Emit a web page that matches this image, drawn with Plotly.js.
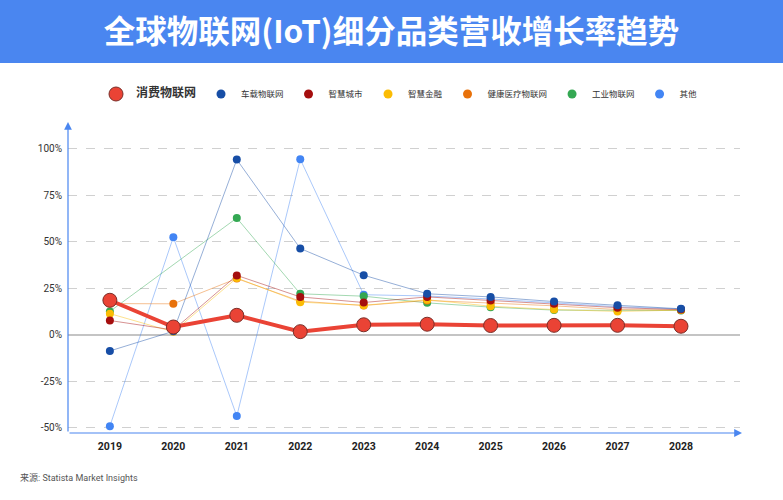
<!DOCTYPE html>
<html>
<head>
<meta charset="utf-8">
<script src="https://cdn.plot.ly/plotly-3.0.1.min.js"></script>
<style>html,body{margin:0;padding:0;background:#fff;}#chart{width:783px;height:500px;}</style>
</head>
<body>
<div id="chart"></div>
<script>
// ---- data ----
const years = [2019, 2020, 2021, 2022, 2023, 2024, 2025, 2026, 2027, 2028];
const consumerIoT   = [18.5, 4.1, 10.4, 1.6, 5.3, 5.6, 4.9, 5.0, 5.0, 4.5];
const vehicleIoT    = [-8.8, 1.8, 94.3, 46.4, 32.0, 22.0, 20.3, 17.8, 15.8, 13.9];
const smartCity     = [7.6, 2.5, 31.9, 20.3, 17.3, 20.3, 18.4, 16.6, 14.5, 13.5];
const smartFinance  = [11.3, 1.5, 30.5, 17.5, 15.8, 18.8, 15.3, 13.5, 12.5, 13.2];
const healthIoT     = [16.7, 16.6, 30.2, 18.0, 15.7, 18.4, 17.0, 15.5, 13.5, 13.3];
const industrialIoT = [12.5, null, 62.8, 22.0, 20.7, 17.1, 14.8, 13.2, 13.0, 13.0];
const otherIoT      = [-49.3, 52.5, -43.9, 94.5, 21.5, 20.8, 19.2, 17.0, 15.0, 13.8];
const yTickVals = [-50, -25, 0, 25, 50, 75, 100];

const seriesNames = ['消费物联网', '车载物联网', '智慧城市', '智慧金融', '健康医疗物联网', '工业物联网', '其他'];
const colors = ['#EA4335', '#174EA6', '#A50E0E', '#FBBC04', '#E8710A', '#34A853', '#4285F4'];

const FONT = 'Roboto, "Noto Sans CJK SC", sans-serif';

function fade(hex, a) {
  const r = parseInt(hex.slice(1,3),16), g = parseInt(hex.slice(3,5),16), b = parseInt(hex.slice(5,7),16);
  return 'rgba(' + r + ',' + g + ',' + b + ',' + a + ')';
}
function thin(name, y, color) {
  return {
    type: 'scatter', mode: 'lines+markers', x: years, y: y, name: name,
    connectgaps: true, showlegend: false,
    line: {color: fade(color, 0.45), width: 1},
    marker: {color: color, size: 8},
    hoverinfo: 'skip'
  };
}
function legendEntry(name, color, size, lineColor) {
  return {
    type: 'scatter', mode: 'markers', x: [null], y: [null], name: name,
    showlegend: true,
    marker: {color: color, size: size, line: {color: lineColor || color, width: lineColor ? 1 : 0}},
    hoverinfo: 'skip'
  };
}

const consumerLabel = '<b><span style="font-size:12px">' + seriesNames[0] + '</span></b>';

const data = [
  thin(seriesNames[6], otherIoT, colors[6]),
  thin(seriesNames[5], industrialIoT, colors[5]),
  thin(seriesNames[4], healthIoT, colors[4]),
  thin(seriesNames[3], smartFinance, colors[3]),
  thin(seriesNames[2], smartCity, colors[2]),
  thin(seriesNames[1], vehicleIoT, colors[1]),
  {
    type: 'scatter', mode: 'lines+markers', x: years, y: consumerIoT,
    name: seriesNames[0], showlegend: false,
    line: {color: colors[0], width: 4},
    marker: {color: colors[0], size: 14, line: {color: '#7a2f29', width: 1}},
    hoverinfo: 'skip'
  },
  legendEntry(consumerLabel, colors[0], 14, '#7a2f29'),
  legendEntry(seriesNames[1], colors[1], 9),
  legendEntry(seriesNames[2], colors[2], 9),
  legendEntry(seriesNames[3], colors[3], 9),
  legendEntry(seriesNames[4], colors[4], 9),
  legendEntry(seriesNames[5], colors[5], 9),
  legendEntry(seriesNames[6], colors[6], 9)
];

// plot area px: x 68..740, y 123..433
const L = 68, R = 43, T = 123, B = 67, W = 783, H = 500;
const pw = W - L - R, ph = H - T - B;
const px2x = p => (p - L) / pw;
const px2y = p => (H - B - p) / ph;

const layout = {
  width: W, height: H,
  margin: {l: L, r: R, t: T, b: B, pad: 0},
  paper_bgcolor: '#ffffff', plot_bgcolor: '#ffffff',
  font: {family: FONT, color: '#333'},
  showlegend: true,
  hovermode: false,
  title: {
    text: '全球物联网(IoT)细分品类营收增长率趋势',
    font: {family: '"Noto Sans CJK SC", sans-serif', size: 31.5, color: '#ffffff', weight: 'bold'},
    x: 0.5, xanchor: 'center', xref: 'container',
    y: 1 - 32 / H, yanchor: 'middle', yref: 'container'
  },
  legend: {
    orientation: 'h', traceorder: 'normal',
    x: px2x(96), xanchor: 'left', y: px2y(94), yanchor: 'middle',
    font: {family: FONT, size: 8.5, color: '#333'},
    itemsizing: 'trace', bgcolor: 'rgba(0,0,0,0)'
  },
  xaxis: {
    type: 'linear', range: [2018.34, 2028.93],
    tickvals: years, ticktext: years.map(String),
    showgrid: false, zeroline: false, showline: false, ticks: '',
    tickfont: {family: FONT, size: 10.5, color: '#222', weight: 'bold'},
    ticklabelstandoff: 5, fixedrange: true
  },
  yaxis: {
    range: [-53, 114],
    tickvals: yTickVals, ticktext: yTickVals.map(v => v + '%'),
    showgrid: true, gridcolor: '#d0d0d0', griddash: 'dash', gridwidth: 1,
    zeroline: true, zerolinecolor: '#c4c4c4', zerolinewidth: 2,
    showline: false, ticks: '',
    tickfont: {family: FONT, size: 10, color: '#333'},
    ticklabelstandoff: 5, fixedrange: true
  },
  shapes: [
    {type: 'rect', xref: 'paper', yref: 'paper', x0: px2x(-2), x1: px2x(W + 2), y0: px2y(63), y1: px2y(-2),
     fillcolor: '#4A86F0', line: {width: 0}, layer: 'below'}
  ],
  annotations: [
    {xref: 'paper', yref: 'paper', x: px2x(742), y: 0, ax: -(742 - L), ay: 0, axref: 'pixel', ayref: 'pixel',
     text: '', showarrow: true, arrowhead: 2, arrowsize: 1.3, arrowwidth: 1.2, arrowcolor: '#4A86F0', standoff: 0, startstandoff: 0},
    {xref: 'paper', yref: 'paper', x: 0, y: px2y(122), ax: 0, ay: (H - B) - 122, axref: 'pixel', ayref: 'pixel',
     text: '', showarrow: true, arrowhead: 2, arrowsize: 1.3, arrowwidth: 1.2, arrowcolor: '#4A86F0', standoff: 0, startstandoff: 0},
    {xref: 'paper', yref: 'paper', x: px2x(18), y: px2y(478), xanchor: 'left', yanchor: 'middle',
     text: '来源: Statista Market Insights', showarrow: false,
     font: {family: FONT, size: 9, color: '#555'}}
  ]
};

Plotly.newPlot('chart', data, layout, {displayModeBar: false, staticPlot: true});
</script>
</body>
</html>
